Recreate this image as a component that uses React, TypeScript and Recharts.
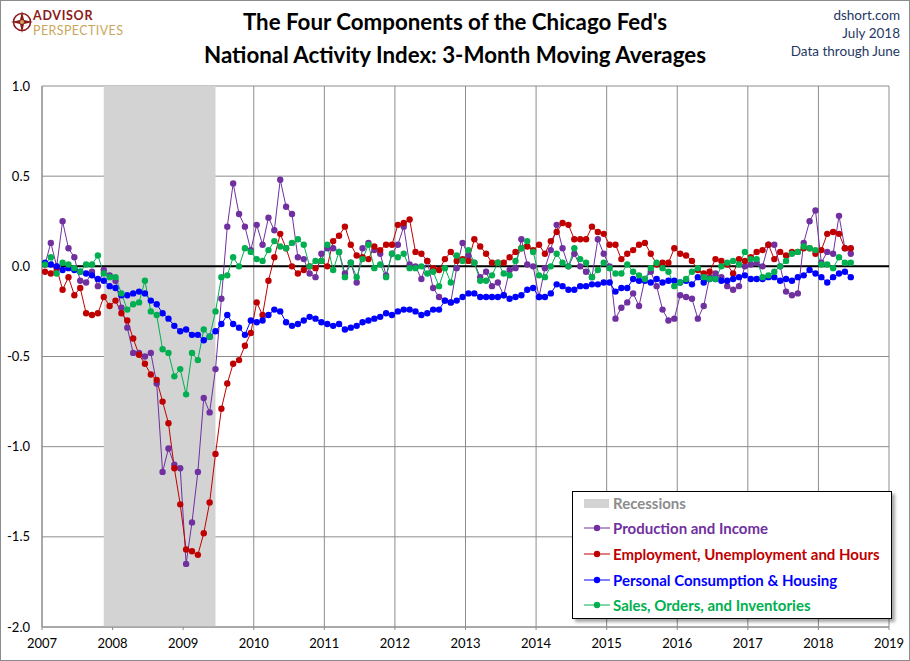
import {
  LineChart,
  Line,
  XAxis,
  YAxis,
  CartesianGrid,
  ReferenceArea,
  ReferenceLine,
} from "recharts";

// monthly 3-month moving averages, Jan 2007 .. Jun 2018
const production = [
  0.01, 0.13, 0.0, 0.25, 0.1, 0.05, -0.08, -0.09, -0.03, -0.11, -0.02, -0.05,
  -0.08, -0.23, -0.34, -0.48, -0.48, -0.5, -0.48, -0.65, -1.14, -1.01, -1.1, -1.12,
  -1.65, -1.42, -1.14, -0.73, -0.81, -0.57, -0.18, 0.22, 0.46, 0.29, 0.22, 0.09,
  0.23, 0.12, 0.27, 0.2, 0.48, 0.33, 0.29, 0.05, 0.04, -0.04, -0.06, 0.07,
  0.1, 0.1, 0.08, -0.04, 0.02, -0.09, 0.1, 0.13, 0.09, 0.07, -0.05, 0.07,
  0.12, 0.22, 0.01, 0.0, -0.07, 0.03, -0.12, -0.17, -0.19, -0.2, -0.01, 0.13,
  0.06, 0.02, -0.06, -0.03, -0.11, -0.09, -0.16, -0.02, -0.01, 0.15, 0.01, 0.0,
  -0.17, -0.01, 0.09, 0.23, 0.1, 0.0, 0.07, 0.0, -0.03, -0.06, 0.15, 0.07,
  0.0, -0.29, -0.23, -0.2, -0.15, -0.22, -0.07, -0.03, -0.11, -0.24, -0.3, -0.29,
  -0.16, -0.17, -0.18, -0.29, -0.22, -0.06, -0.04, -0.06, -0.11, -0.13, -0.11, 0.0,
  0.01, 0.02, 0.0, 0.12, 0.12, 0.0, -0.14, -0.16, -0.15, 0.13, 0.25, 0.31,
  0.02, 0.08, 0.07, 0.28, 0.1, 0.07,
];

const employment = [
  -0.03, -0.04, -0.01, -0.13, -0.06, -0.16, -0.12, -0.26, -0.27, -0.26, -0.17, -0.22,
  -0.19, -0.26, -0.3, -0.4, -0.49, -0.54, -0.6, -0.63, -0.75, -0.87, -1.12, -1.32,
  -1.57, -1.58, -1.6, -1.48, -1.31, -1.04, -0.79, -0.65, -0.54, -0.52, -0.44, -0.37,
  -0.2, -0.27, -0.08, 0.05, 0.18, 0.1, 0.0, -0.04, -0.02, 0.0, -0.01, 0.03,
  0.0, 0.14, 0.17, 0.22, 0.12, 0.06, 0.05, 0.04, 0.11, 0.09, 0.12, 0.12,
  0.23, 0.24, 0.26, 0.08, 0.07, 0.03, -0.01, -0.02, 0.04, 0.08, 0.03, 0.04,
  0.03, 0.15, 0.11, 0.07, 0.02, 0.02, 0.02, 0.05, 0.08, 0.1, 0.11, 0.09,
  0.12, 0.07, 0.14, 0.19, 0.24, 0.23, 0.15, 0.15, 0.15, 0.22, 0.19, 0.18,
  0.12, 0.12, 0.04, 0.07, 0.09, 0.12, 0.13, 0.07, 0.01, 0.02, 0.02, 0.1,
  0.07, 0.06, 0.03, -0.02, -0.04, -0.03, 0.04, 0.03, 0.01, -0.04, 0.04, 0.03,
  0.05, 0.08, 0.09, 0.12, 0.04, 0.08, 0.06, 0.08, 0.08, 0.1, 0.1, 0.07,
  0.09, 0.18, 0.19, 0.18, 0.1, 0.1,
];

const consumption = [
  0.02, 0.01, 0.0, -0.02, -0.01, -0.02, -0.03, -0.04, -0.05, -0.07, -0.08, -0.11,
  -0.12, -0.16, -0.16, -0.15, -0.14, -0.15, -0.19, -0.21, -0.26, -0.29, -0.33, -0.36,
  -0.35, -0.38, -0.38, -0.41, -0.39, -0.36, -0.32, -0.27, -0.32, -0.34, -0.38, -0.3,
  -0.31, -0.3, -0.27, -0.24, -0.25, -0.31, -0.33, -0.32, -0.3, -0.28, -0.29, -0.31,
  -0.32, -0.33, -0.32, -0.35, -0.34, -0.33, -0.31, -0.3, -0.29, -0.28, -0.26, -0.27,
  -0.25, -0.24, -0.24, -0.25, -0.27, -0.26, -0.24, -0.24, -0.19, -0.2, -0.19, -0.17,
  -0.15, -0.15, -0.17, -0.17, -0.17, -0.17, -0.16, -0.18, -0.17, -0.16, -0.13, -0.12,
  -0.17, -0.17, -0.15, -0.1, -0.11, -0.13, -0.13, -0.11, -0.11, -0.1, -0.1, -0.09,
  -0.09, -0.14, -0.12, -0.12, -0.07, -0.08, -0.08, -0.09, -0.07, -0.09, -0.08, -0.08,
  -0.09, -0.08, -0.1, -0.06, -0.09, -0.07, -0.07, -0.08, -0.08, -0.07, -0.06, -0.05,
  -0.07, -0.07, -0.07, -0.06, -0.06, -0.08, -0.07, -0.08, -0.06, -0.05, -0.02, -0.04,
  -0.06, -0.09, -0.06, -0.04, -0.03, -0.06,
];

const sales = [
  0.01, 0.05, -0.04, 0.02, 0.01, -0.01, -0.03, 0.01, 0.01, 0.06, -0.04, -0.06,
  -0.06, -0.15, -0.24, -0.21, -0.2, -0.08, -0.25, -0.27, -0.46, -0.48, -0.61, -0.57,
  -0.71, -0.48, -0.52, -0.35, -0.39, -0.25, -0.06, -0.05, 0.05, 0.0, 0.1, 0.08,
  0.04, 0.03, 0.09, 0.14, 0.11, 0.1, 0.13, 0.15, 0.12, 0.0, 0.03, 0.03,
  0.12, -0.02, 0.08, -0.06, 0.02, -0.06, 0.04, 0.12, -0.01, 0.01, -0.06, 0.07,
  0.05, 0.07, -0.01, -0.01, 0.0, -0.04, -0.03, -0.11, -0.01, -0.09, 0.06, 0.03,
  0.09, 0.02, -0.08, -0.08, -0.05, 0.02, -0.04, -0.05, 0.03, 0.1, 0.14, 0.08,
  -0.05, -0.06, 0.0, 0.07, 0.02, 0.0, 0.1, 0.04, 0.02, -0.06, -0.02, 0.02,
  -0.01, -0.04, -0.04, 0.01, -0.03, -0.05, -0.07, -0.01, 0.02, -0.01, -0.03, -0.11,
  -0.09, -0.07, -0.03, -0.01, -0.06, -0.07, -0.07, 0.0, 0.02, 0.03, 0.01, 0.08,
  0.04, 0.04, -0.06, -0.05, -0.03, 0.0, 0.03, 0.07, 0.08, 0.11, 0.1, 0.09,
  0.01, 0.01, -0.01, 0.05, 0.02, 0.02,
];

const startYear = 2007;
const yearTicks = [2007, 2008, 2009, 2010, 2011, 2012, 2013, 2014, 2015, 2016, 2017, 2018, 2019];
const valueTicks = [-2, -1.5, -1, -0.5, 0, 0.5, 1];
const recession = { from: 2007.875, to: 2009.458 };

const series = [
  { key: "production", name: "Production and Income", color: "#7030A0" },
  { key: "employment", name: "Employment, Unemployment and Hours", color: "#C00000" },
  { key: "consumption", name: "Personal Consumption & Housing", color: "#0000FF" },
  { key: "sales", name: "Sales, Orders, and Inventories", color: "#00B050" },
];

// points sit mid-month
const data = production.map((v, i) => ({
  t: startYear + (i + 0.5) / 12,
  production: v,
  employment: employment[i],
  consumption: consumption[i],
  sales: sales[i],
}));

const font = "Lato, 'Open Sans', sans-serif";

const Logo = () => (
  <div style={{ position: "absolute", left: 10, top: 8 }}>
    <svg width={24} height={24} style={{ position: "absolute", left: 0, top: 2 }}>
      <circle cx={12} cy={12} r={8.5} fill="none" stroke="#8B1A1A" strokeWidth={1.6} />
      <polygon points="12,1 14,10 23,12 14,14 12,23 10,14 1,12 10,10" fill="#8B1A1A" />
      <circle cx={12} cy={12} r={2} fill="#C9A75D" />
    </svg>
    <div
      style={{
        position: "absolute",
        left: 23,
        top: 0,
        fontFamily: font,
        fontWeight: 700,
        fontSize: 12.5,
        color: "#8B1A1A",
        letterSpacing: 0.7,
        lineHeight: "15px",
      }}
    >
      ADVISOR
    </div>
    <div
      style={{
        position: "absolute",
        left: 23,
        top: 15,
        fontFamily: font,
        fontSize: 12.5,
        color: "#C9A75D",
        letterSpacing: 0.4,
        lineHeight: "15px",
        whiteSpace: "nowrap",
      }}
    >
      PERSPECTIVES
    </div>
  </div>
);

const LegendBox = () => (
  <div
    style={{
      position: "absolute",
      left: 572,
      top: 491,
      width: 320,
      height: 128,
      boxSizing: "border-box",
      border: "1.5px solid #000",
      background: "#fff",
      boxShadow: "3px 3px 3px rgba(0,0,0,0.35)",
      fontFamily: font,
      fontWeight: 700,
      fontSize: 15,
    }}
  >
    <div style={{ position: "absolute", left: 11, top: 1, height: 20, display: "flex", alignItems: "center" }}>
      <div style={{ width: 25, height: 9, background: "#D3D3D3" }} />
      <span style={{ marginLeft: 4, color: "#8C8C8C" }}>Recessions</span>
    </div>
    {series.map((s, i) => (
      <div
        key={s.key}
        style={{
          position: "absolute",
          left: 11,
          top: 26 + i * 25.8,
          height: 20,
          display: "flex",
          alignItems: "center",
          whiteSpace: "nowrap",
        }}
      >
        <svg width={26} height={10}>
          <line x1={0} y1={5} x2={26} y2={5} stroke={s.color} strokeWidth={1} />
          <circle cx={13} cy={5} r={3.2} fill={s.color} />
        </svg>
        <span style={{ marginLeft: 3, color: s.color }}>{s.name}</span>
      </div>
    ))}
  </div>
);

export default function App() {
  return (
    <div style={{ position: "relative", width: 910, height: 661, background: "#fff", overflow: "hidden" }}>
      <style>{`body{margin:0}`}</style>
      <LineChart
        width={910}
        height={661}
        data={data}
        margin={{ top: 86, right: 21, bottom: 0, left: 0 }}
      >
        <ReferenceArea
          x1={recession.from}
          x2={recession.to}
          y1={-2}
          y2={1}
          fill="#D3D3D3"
          fillOpacity={1}
          stroke="none"
        />
        <CartesianGrid stroke="#8C8C8C" strokeWidth={1} />
        <XAxis
          dataKey="t"
          type="number"
          domain={[2007, 2019]}
          ticks={yearTicks}
          allowDataOverflow
          height={34}
          stroke="#8C8C8C"
          tickSize={3}
          tickMargin={9}
          tick={{ fill: "#000", fontSize: 13, fontFamily: font }}
        />
        <YAxis
          type="number"
          domain={[-2, 1]}
          ticks={valueTicks}
          width={42}
          stroke="#8C8C8C"
          tickLine={false}
          tickSize={0}
          tickMargin={12}
          tickFormatter={(v: number) => v.toFixed(1)}
          tick={{ fill: "#000", fontSize: 13, fontFamily: font }}
        />
        <ReferenceLine y={0} stroke="#000" strokeWidth={2} />
        {series.map((s) => (
          <Line
            key={s.key}
            dataKey={s.key}
            name={s.name}
            type="linear"
            stroke={s.color}
            strokeWidth={1}
            dot={{ r: 3.2, fill: s.color, stroke: s.color, strokeWidth: 0 }}
            activeDot={false}
            isAnimationActive={false}
          />
        ))}
      </LineChart>

      <Logo />

      <div
        style={{
          position: "absolute",
          left: 0,
          top: 5,
          width: 910,
          textAlign: "center",
          fontFamily: font,
          fontWeight: 700,
          fontSize: 22.3,
          lineHeight: "33px",
          color: "#000",
        }}
      >
        <div>The Four Components of the Chicago Fed's</div>
        <div>National Activity Index: 3-Month Moving Averages</div>
      </div>

      <div
        style={{
          position: "absolute",
          right: 10,
          top: 6,
          textAlign: "right",
          fontFamily: font,
          fontSize: 13.5,
          lineHeight: "18px",
          color: "#1F3864",
        }}
      >
        <div>dshort.com</div>
        <div>July 2018</div>
        <div>Data through June</div>
      </div>

      <LegendBox />

      <div
        style={{
          position: "absolute",
          inset: 0,
          border: "1px solid #8C8C8C",
          pointerEvents: "none",
        }}
      />
    </div>
  );
}
